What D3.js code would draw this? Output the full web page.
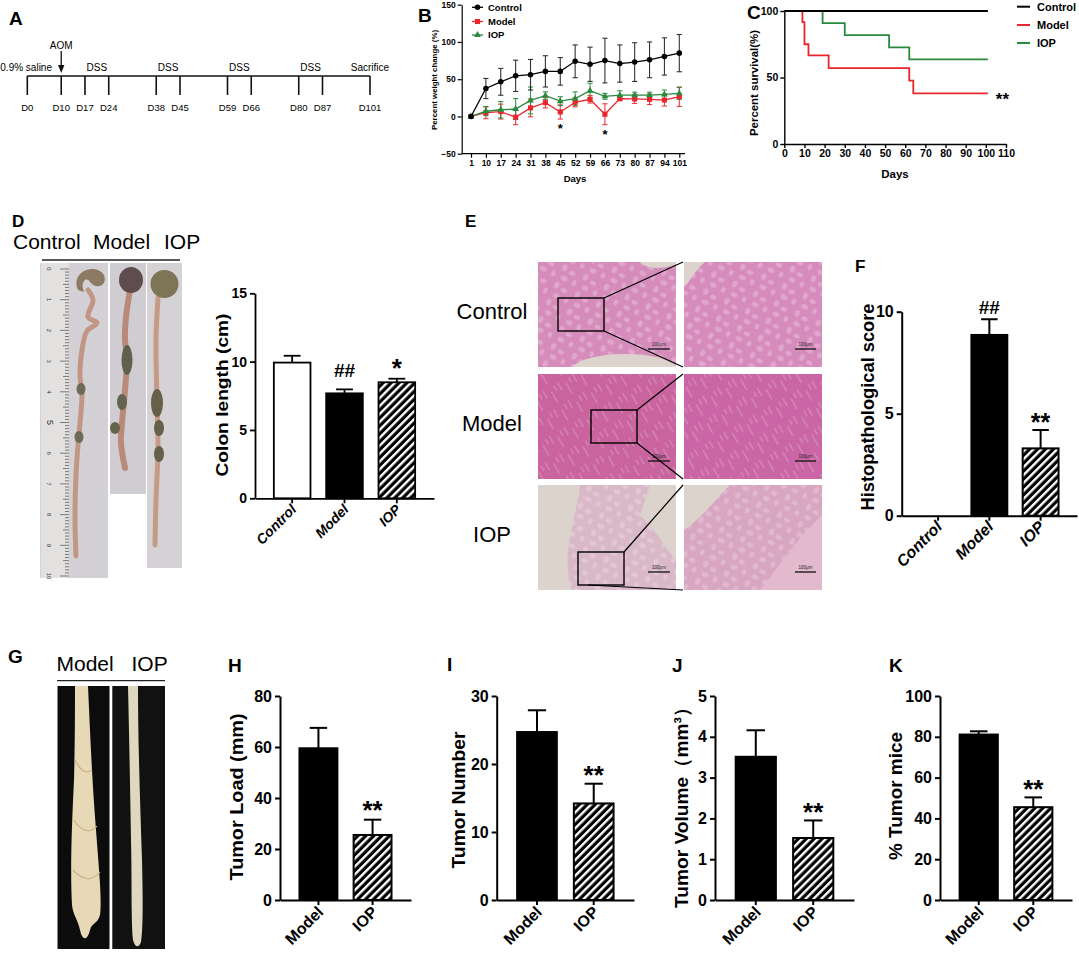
<!DOCTYPE html>
<html>
<head>
<meta charset="utf-8">
<script src="https://cdn.jsdelivr.net/npm/d3@7"></script>
<style>
  body { margin: 0; background: #fff; }
  svg { display: block; font-family: "Liberation Sans", Arial, Helvetica, sans-serif; }
</style>
</head>
<body>
<div id="fig"></div>
<script>
// ---------- data ----------
// A: protocol timeline
const timelineDays = [0, 10, 17, 24, 38, 45, 59, 66, 80, 87, 101];
const dssStart = [17, 38, 59, 80];
const dssEnd = [24, 45, 66, 87];

// B: percent weight change
const weightDays = ["1", "10", "17", "24", "31", "38", "45", "52", "59", "66", "73", "80", "87", "94", "101"];
const weightTicks = [-50, 0, 50, 100, 150];
const ctrlWeight = [0, 37.5, 46.5, 54.5, 56, 60.5, 60.5, 74, 70, 75, 71, 73, 76, 80.5, 85];
const ctrlWeightErr = [0, 13.5, 18, 21, 20.5, 21, 18.5, 22, 23, 30, 25, 26, 24, 25, 25];
const modelWeight = [0, 5, 6.5, -1, 11.5, 18.5, 6, 19, 23, 3, 24, 23.5, 23, 22, 26.5];
const modelWeightErr = [0, 8, 10, 10, 12, 7, 9.5, 6, 5, 14, 3, 6, 7, 8, 13];
const iopWeight = [0, 7, 9, 10, 21.5, 28, 20.5, 24, 34.5, 27, 28.5, 28.5, 28.5, 29.5, 31];
const iopWeightErr = [0, 6, 11, 14, 18, 5, 6, 9, 10, 4, 6, 4, 4, 6, 8];
const weightStarDays = ["45", "66"];

// C: survival
const survTicksX = [0, 10, 20, 30, 40, 50, 60, 70, 80, 90, 100, 110];
const survTicksY = [0, 50, 100];
const survDaysCtrl = [0, 101];
const survCtrl = [100, 100];
const survDaysModel = [0, 9, 10, 12, 22, 62, 64, 101];
const survModel = [100, 91.7, 75, 66.7, 57.1, 47.6, 38.1, 38.1];
const survDaysIop = [0, 19, 30, 52, 62, 101];
const survIop = [100, 90.9, 81.8, 72.7, 63.6, 63.6];

// D: colon length
const groups3 = ["Control", "Model", "IOP"];
const colonLength = [9.93, 7.68, 8.49];
const colonLengthErr = [0.5, 0.29, 0.26];
const colonMarks = ["", "##", "*"];

// F: histopathological score
const histoScore = [0, 8.86, 3.3];
const histoScoreErr = [0, 0.77, 0.9];
const histoMarks = ["", "##", "**"];

// H-K: tumour data
const groups2 = ["Model", "IOP"];
const tumorLoad = [59.5, 25.5];
const tumorLoadErr = [8, 6];
const tumorNumber = [24.7, 14.2];
const tumorNumberErr = [3.2, 2.9];
const tumorVolume = [3.51, 1.52];
const tumorVolumeErr = [0.65, 0.43];
const tumorMice = [81.1, 45.5];
const tumorMiceErr = [1.6, 4.8];
const tumorMarks = ["", "**"];

// ---------- svg ----------
const FONT = '"Liberation Sans", Arial, Helvetica, sans-serif';
const svg = d3.select("#fig").append("svg").attr("width", 1079).attr("height", 954);
const defs = svg.append("defs");

const hatch = defs.append("pattern").attr("id", "hatch")
  .attr("patternUnits", "userSpaceOnUse")
  .attr("width", 5.6).attr("height", 5.6)
  .attr("patternTransform", "rotate(45)");
hatch.append("rect").attr("width", 5.6).attr("height", 5.6).attr("fill", "#000");
hatch.append("rect").attr("width", 2.4).attr("height", 5.6).attr("fill", "#fff");

// loose crypt-like texture for the H&E pictures
const crypt = defs.append("pattern").attr("id", "crypt")
  .attr("patternUnits", "userSpaceOnUse").attr("width", 23).attr("height", 19)
  .attr("patternTransform", "rotate(25)");
[[4, 4, 2.5, 3.5], [13, 6, 3.2, 2.2], [19, 14, 2.2, 3], [8, 14, 3.5, 2.4]].forEach(e => {
  crypt.append("ellipse").attr("cx", e[0]).attr("cy", e[1]).attr("rx", e[2]).attr("ry", e[3])
    .attr("fill", "#f7e6ef");
});
const speck = defs.append("pattern").attr("id", "speck")
  .attr("patternUnits", "userSpaceOnUse").attr("width", 17).attr("height", 21)
  .attr("patternTransform", "rotate(-30)");
[[2, 1, 9], [9, 6, 12], [14, 2, 6]].forEach(s => {
  speck.append("rect").attr("x", s[0]).attr("y", s[1]).attr("width", 1.3).attr("height", s[2])
    .attr("fill", "#f5dcea");
});

function letter(t, x, y, s) {
  svg.append("text").attr("x", x).attr("y", y).attr("font-size", s)
    .attr("font-weight", "bold").text(t);
}

function yLabel(g, text, cx, cy, len, size) {
  g.append("text")
    .attr("transform", `translate(${cx},${cy}) rotate(-90)`)
    .attr("text-anchor", "middle").attr("dy", "0.35em")
    .attr("font-size", size).attr("font-weight", "bold")
    .attr("textLength", len).attr("lengthAdjust", "spacingAndGlyphs")
    .text(text);
}

function styleAxis(a, size, sw) {
  a.attr("font-family", FONT);
  a.select(".domain").attr("stroke", "#000").attr("stroke-width", sw);
  a.selectAll(".tick line").attr("stroke", "#000").attr("stroke-width", sw);
  a.selectAll(".tick text").attr("font-size", size).attr("font-weight", "bold").attr("fill", "#000");
}

// ---------- A ----------
letter("A", 9, 25, 19);
const gA = svg.append("g").attr("font-size", 10);
const xA = d3.scaleLinear().domain([0, 101]).range([27.3, 370]);
gA.append("line").attr("x1", xA(0)).attr("x2", xA(101)).attr("y1", 76).attr("y2", 76)
  .attr("stroke", "#111").attr("stroke-width", 1.6);
gA.selectAll("line.tk").data(timelineDays).join("line").attr("class", "tk")
  .attr("x1", d => xA(d)).attr("x2", d => xA(d)).attr("y1", 76).attr("y2", 95)
  .attr("stroke", "#111").attr("stroke-width", 1.6);
gA.selectAll("text.day").data(timelineDays).join("text").attr("class", "day")
  .attr("x", d => xA(d)).attr("y", 110.5).attr("text-anchor", "middle")
  .attr("font-size", 9.5).text(d => "D" + d);
gA.selectAll("text.dss").data(dssStart).join("text").attr("class", "dss")
  .attr("x", (d, i) => xA((d + dssEnd[i]) / 2)).attr("y", 70.5).attr("text-anchor", "middle")
  .text("DSS");
gA.append("text").attr("x", 52).attr("y", 70.5).attr("text-anchor", "end").text("0.9% saline");
gA.append("text").attr("x", xA(101)).attr("y", 70.5).attr("text-anchor", "middle").text("Sacrifice");
gA.append("text").attr("x", xA(10)).attr("y", 48.5).attr("text-anchor", "middle").text("AOM");
gA.append("line").attr("x1", xA(10)).attr("x2", xA(10)).attr("y1", 51).attr("y2", 67)
  .attr("stroke", "#111").attr("stroke-width", 1.3);
gA.append("path").attr("d", `M${xA(10) - 3.2},65 L${xA(10) + 3.2},65 L${xA(10)},73 Z`).attr("fill", "#111");

// ---------- B ----------
letter("B", 418, 22, 19);
const gB = svg.append("g");
const xB = d3.scalePoint().domain(weightDays).range([471, 679.3]);
const yB = d3.scaleLinear().domain([-50, 150]).range([153.7, 4.7]);
const yAxB = gB.append("g").attr("transform", "translate(461.7,0)")
  .call(d3.axisLeft(yB).tickValues(weightTicks).tickSize(4).tickPadding(2).tickSizeOuter(0));
styleAxis(yAxB, 8.5, 1.2);
const xAxB = gB.append("g").attr("transform", "translate(0,153.7)")
  .call(d3.axisBottom(xB).tickSize(4).tickPadding(2).tickSizeOuter(0));
styleAxis(xAxB, 8.5, 1.2);
xAxB.select(".domain").attr("d", "M461.7,0H685");
yLabel(gB, "Percent weight change (%)", 434, 80, 100, 8);
gB.append("text").attr("x", 575).attr("y", 181.5).attr("text-anchor", "middle")
  .attr("font-size", 9.5).attr("font-weight", "bold").text("Days");

const weightSeries = [
  { name: "Model", v: modelWeight, e: modelWeightErr, color: "#e8262c", sym: d3.symbolSquare, size: 26 },
  { name: "IOP", v: iopWeight, e: iopWeightErr, color: "#2a8a3e", sym: d3.symbolTriangle, size: 20 },
  { name: "Control", v: ctrlWeight, e: ctrlWeightErr, color: "#000", sym: d3.symbolCircle, size: 24 }
];
weightSeries.forEach(s => {
  const pts = weightDays.map((d, i) => ({ d, v: s.v[i], e: s.e[i] }));
  const eg = gB.append("g").attr("stroke", s.color).attr("stroke-width", 1.1)
    .attr("opacity", s.name === "Control" ? 0.8 : 0.9);
  const withErr = pts.filter(p => p.e > 0);
  eg.selectAll("line.v").data(withErr).join("line").attr("class", "v")
    .attr("x1", p => xB(p.d)).attr("x2", p => xB(p.d))
    .attr("y1", p => yB(p.v - p.e)).attr("y2", p => yB(p.v + p.e));
  eg.selectAll("line.t").data(withErr).join("line").attr("class", "t")
    .attr("x1", p => xB(p.d) - 2.6).attr("x2", p => xB(p.d) + 2.6)
    .attr("y1", p => yB(p.v + p.e)).attr("y2", p => yB(p.v + p.e));
  eg.selectAll("line.b").data(withErr).join("line").attr("class", "b")
    .attr("x1", p => xB(p.d) - 2.6).attr("x2", p => xB(p.d) + 2.6)
    .attr("y1", p => yB(p.v - p.e)).attr("y2", p => yB(p.v - p.e));
});
weightSeries.forEach(s => {
  const pts = weightDays.map((d, i) => ({ d, v: s.v[i] }));
  gB.append("path").datum(pts)
    .attr("d", d3.line().x(p => xB(p.d)).y(p => yB(p.v)))
    .attr("fill", "none").attr("stroke", s.color).attr("stroke-width", 1.3);
  gB.selectAll(null).data(pts).join("path")
    .attr("transform", p => `translate(${xB(p.d)},${yB(p.v)})`)
    .attr("d", d3.symbol().type(s.sym).size(s.size)).attr("fill", s.color);
});
gB.selectAll("text.star").data(weightStarDays).join("text").attr("class", "star")
  .attr("x", d => xB(d)).attr("text-anchor", "middle")
  .attr("y", d => { const i = weightDays.indexOf(d); return yB(modelWeight[i] - modelWeightErr[i]) + 14; })
  .attr("font-size", 13).attr("font-weight", "bold").text("*");

const legB = [weightSeries[2], weightSeries[0], weightSeries[1]];
const legBy = [7.3, 21.5, 35];
legB.forEach((s, i) => {
  gB.append("line").attr("x1", 472).attr("x2", 483).attr("y1", legBy[i]).attr("y2", legBy[i])
    .attr("stroke", s.color).attr("stroke-width", 1.3);
  gB.append("path").attr("transform", `translate(477.5,${legBy[i]})`)
    .attr("d", d3.symbol().type(s.sym).size(s.size)).attr("fill", s.color);
  gB.append("text").attr("x", 488).attr("y", legBy[i]).attr("dy", "0.35em")
    .attr("font-size", 9.5).attr("font-weight", "bold").text(s.name);
});

// ---------- C ----------
letter("C", 747, 19, 19);
const gC = svg.append("g");
const xC = d3.scaleLinear().domain([0, 110]).range([784.3, 1006]);
const yC = d3.scaleLinear().domain([0, 100]).range([144, 11]);
const yAxC = gC.append("g").attr("transform", "translate(784.3,0)")
  .call(d3.axisLeft(yC).tickValues(survTicksY).tickSize(4).tickPadding(2).tickSizeOuter(0));
styleAxis(yAxC, 10.5, 1.4);
const xAxC = gC.append("g").attr("transform", "translate(0,144)")
  .call(d3.axisBottom(xC).tickValues(survTicksX).tickSize(4).tickPadding(2).tickSizeOuter(0));
styleAxis(xAxC, 10.5, 1.4);
yLabel(gC, "Percent survival(%)", 754, 83, 106, 11);
gC.append("text").attr("x", 895).attr("y", 177.5).attr("text-anchor", "middle")
  .attr("font-size", 11.5).attr("font-weight", "bold").text("Days");

const survSeries = [
  { name: "Control", days: survDaysCtrl, v: survCtrl, color: "#000" },
  { name: "Model", days: survDaysModel, v: survModel, color: "#e8262c" },
  { name: "IOP", days: survDaysIop, v: survIop, color: "#2a8a3e" }
];
const stepLine = d3.line().curve(d3.curveStepAfter).x(p => xC(p[0])).y(p => yC(p[1]));
[survSeries[2], survSeries[1], survSeries[0]].forEach(s => {
  gC.append("path").datum(s.days.map((d, i) => [d, s.v[i]]))
    .attr("d", stepLine).attr("fill", "none").attr("stroke", s.color).attr("stroke-width", 1.8);
});
gC.append("text").attr("x", xC(101) + 8).attr("y", yC(survModel[survModel.length - 1]) + 12)
  .attr("font-size", 17).attr("font-weight", "bold").text("**");
const legCy = [6.7, 25, 43];
survSeries.forEach((s, i) => {
  gC.append("line").attr("x1", 1017).attr("x2", 1030).attr("y1", legCy[i]).attr("y2", legCy[i])
    .attr("stroke", s.color).attr("stroke-width", 2);
  gC.append("text").attr("x", 1037).attr("y", legCy[i]).attr("dy", "0.35em")
    .attr("font-size", 11).attr("font-weight", "bold").text(s.name);
});

// ---------- bar charts ----------
function barPanel(o) {
  const g = svg.append("g");
  const x = d3.scaleBand().domain(o.groups).range(o.xr).paddingInner(0.3).paddingOuter(0.36);
  const y = d3.scaleLinear().domain([0, o.max]).range(o.yr);
  const bw = x.bandwidth();
  const rows = o.groups.map((grp, i) => ({ grp, v: o.values[i], e: o.errors[i], fill: o.fills[i], mark: o.marks[i] }));
  const shown = rows.filter(d => d.v > 0);
  g.selectAll("line.err").data(shown).join("line").attr("class", "err")
    .attr("x1", d => x(d.grp) + bw / 2).attr("x2", d => x(d.grp) + bw / 2)
    .attr("y1", d => y(d.v)).attr("y2", d => y(d.v + d.e))
    .attr("stroke", "#000").attr("stroke-width", o.sw);
  g.selectAll("line.cap").data(shown).join("line").attr("class", "cap")
    .attr("x1", d => x(d.grp) + bw / 2 - bw * 0.23).attr("x2", d => x(d.grp) + bw / 2 + bw * 0.23)
    .attr("y1", d => y(d.v + d.e)).attr("y2", d => y(d.v + d.e))
    .attr("stroke", "#000").attr("stroke-width", o.sw);
  g.selectAll("rect.bar").data(shown).join("rect").attr("class", "bar")
    .attr("x", d => x(d.grp)).attr("y", d => y(d.v))
    .attr("width", bw).attr("height", d => y(0) - y(d.v))
    .attr("fill", d => d.fill).attr("stroke", "#000").attr("stroke-width", o.sw);
  g.selectAll("text.mark").data(shown.filter(d => d.mark)).join("text").attr("class", "mark")
    .attr("x", d => x(d.grp) + bw / 2).attr("text-anchor", "middle")
    .attr("y", d => y(d.v + d.e) - (d.mark[0] === "#" ? o.hashGap : o.starGap))
    .attr("font-size", d => d.mark[0] === "#" ? o.hashSize : o.starSize)
    .attr("font-weight", "bold").text(d => d.mark);

  const ya = g.append("g").attr("transform", `translate(${o.xr[0]},0)`)
    .call(d3.axisLeft(y).tickValues(o.ticks).tickFormat(d3.format("d"))
      .tickSize(5).tickPadding(3).tickSizeOuter(0));
  styleAxis(ya, o.tickSize, o.sw);
  const xa = g.append("g").attr("transform", `translate(0,${o.yr[0]})`)
    .call(d3.axisBottom(x).tickSize(5).tickSizeOuter(0));
  styleAxis(xa, o.tickSize, o.sw);
  xa.selectAll(".tick text").attr("y", 0).attr("dy", 0).attr("text-anchor", "end")
    .attr("font-style", o.italic ? "italic" : "normal")
    .attr("transform", `translate(${o.lab[0]},${o.lab[1]}) rotate(-45)`);
  yLabel(g, o.ylabel, o.yl[0], o.yl[1], o.yl[2], o.ylSize);
  return g;
}

const fills3 = ["#fff", "#000", "url(#hatch)"];
const fills2 = ["#000", "url(#hatch)"];

// ---------- D ----------
letter("D", 12, 227, 17);
const gD = svg.append("g");
[["Control", 13], ["Model", 93], ["IOP", 164]].forEach(t => {
  gD.append("text").attr("x", t[1]).attr("y", 249).attr("font-size", 21).text(t[0]);
});
gD.append("line").attr("x1", 42).attr("x2", 180).attr("y1", 260).attr("y2", 260)
  .attr("stroke", "#222").attr("stroke-width", 1.3);
// photo strips (illustration)
gD.append("rect").attr("x", 40).attr("y", 263).attr("width", 68).attr("height", 315).attr("fill", "#d3d1d5");
gD.append("rect").attr("x", 41).attr("y", 263).attr("width", 28).attr("height", 315).attr("fill", "#e3e1e0");
gD.append("rect").attr("x", 110).attr("y", 263).attr("width", 36).attr("height", 231).attr("fill", "#cfcdd2");
gD.append("rect").attr("x", 147).attr("y", 263).attr("width", 35).attr("height", 305).attr("fill", "#d4d2d4");
const rulerY = d3.scaleLinear().domain([0, 10]).range([269, 576]);
gD.selectAll("line.mm").data(d3.range(0, 101)).join("line").attr("class", "mm")
  .attr("x1", 69).attr("x2", d => d % 10 === 0 ? 60 : (d % 5 === 0 ? 63 : 65))
  .attr("y1", d => rulerY(d / 10)).attr("y2", d => rulerY(d / 10))
  .attr("stroke", "#333").attr("stroke-width", 0.6);
gD.selectAll("text.cm").data(d3.range(0, 11)).join("text").attr("class", "cm")
  .attr("transform", d => `translate(47,${rulerY(d)}) rotate(90)`)
  .attr("text-anchor", "middle").attr("font-size", d => d === 5 ? 9 : 6).attr("fill", "#333").text(d => d);
const tube = d3.line().curve(d3.curveCatmullRom);
gD.append("path").attr("d", tube([[88, 290], [93, 300], [88, 317], [97, 323], [87, 331], [82, 350], [80, 377], [82, 392], [80, 423], [78, 445], [76, 475], [75, 520], [76, 556]]))
  .attr("fill", "none").attr("stroke", "#c29684").attr("stroke-width", 5).attr("stroke-linecap", "round");
gD.append("path").attr("d", "M78,290 C70,272 95,262 104,275 C108,286 96,290 90,282 C86,276 80,282 84,292 Z").attr("fill", "#8c7b62");
gD.append("ellipse").attr("cx", 81).attr("cy", 389).attr("rx", 4.5).attr("ry", 6).attr("fill", "#6e6a55");
gD.append("ellipse").attr("cx", 79).attr("cy", 437).attr("rx", 4.5).attr("ry", 6).attr("fill", "#6e6a55");
gD.append("path").attr("d", tube([[130, 290], [126, 317], [125, 340], [127, 357], [125, 390], [122, 423], [121, 443], [125, 468]]))
  .attr("fill", "none").attr("stroke", "#b98a7a").attr("stroke-width", 6).attr("stroke-linecap", "round");
gD.append("ellipse").attr("cx", 131).attr("cy", 280).attr("rx", 12).attr("ry", 13).attr("fill", "#5e4c4e");
gD.append("ellipse").attr("cx", 127).attr("cy", 360).attr("rx", 5.5).attr("ry", 15).attr("fill", "#5f604d");
gD.append("ellipse").attr("cx", 122).attr("cy", 402).attr("rx", 5).attr("ry", 8).attr("fill", "#66634f");
gD.append("ellipse").attr("cx", 115).attr("cy", 428).attr("rx", 5).attr("ry", 6).attr("fill", "#66634f");
gD.append("path").attr("d", tube([[158, 298], [156, 340], [157, 400], [158, 450], [156, 500], [155, 545]]))
  .attr("fill", "none").attr("stroke", "#c59b87").attr("stroke-width", 5).attr("stroke-linecap", "round");
gD.append("circle").attr("cx", 164.5).attr("cy", 284).attr("r", 14).attr("fill", "#7d7556");
gD.append("ellipse").attr("cx", 157).attr("cy", 403).attr("rx", 6).attr("ry", 14).attr("fill", "#666048");
gD.append("ellipse").attr("cx", 159).attr("cy", 428).attr("rx", 5).attr("ry", 8).attr("fill", "#666048");
gD.append("ellipse").attr("cx", 159).attr("cy", 454).attr("rx", 5).attr("ry", 8).attr("fill", "#666048");

barPanel({
  groups: groups3, values: colonLength, errors: colonLengthErr, fills: fills3, marks: colonMarks,
  xr: [255, 434], yr: [498.3, 293.3], max: 15, ticks: [0, 5, 10, 15],
  sw: 1.8, tickSize: 14, italic: true, lab: [5, 12],
  hashGap: 12, hashSize: 19, starGap: 2, starSize: 26,
  ylabel: "Colon length (cm)", yl: [222, 395, 163], ylSize: 17
});

// ---------- E ----------
letter("E", 465, 227, 17);
const gE = svg.append("g");
const rowsE = [262, 374, 485];
const rowNames = ["Control", "Model", "IOP"];
const leftFill = ["#d58cbb", "#c9649f", "#d9b9c8"];
const rightFill = ["#d68bbd", "#ca66a5", "#d8a6c1"];
const boxes = [[558, 298], [591, 410], [578, 552]];
rowsE.forEach((y0, i) => {
  gE.append("text").attr("x", 492).attr("y", y0 + 57).attr("text-anchor", "middle")
    .attr("font-size", 22).text(rowNames[i]);
  const cl = defs.append("clipPath").attr("id", "cl" + i);
  cl.append("rect").attr("x", 538).attr("y", y0).attr("width", 138).attr("height", 105);
  const cr = defs.append("clipPath").attr("id", "cr" + i);
  cr.append("rect").attr("x", 684).attr("y", y0).attr("width", 138).attr("height", 105);
  const L = gE.append("g").attr("clip-path", `url(#cl${i})`);
  const R = gE.append("g").attr("clip-path", `url(#cr${i})`);
  L.append("rect").attr("x", 538).attr("y", y0).attr("width", 138).attr("height", 105).attr("fill", leftFill[i]);
  R.append("rect").attr("x", 684).attr("y", y0).attr("width", 138).attr("height", 105).attr("fill", rightFill[i]);
  const tex = i === 1 ? "url(#speck)" : "url(#crypt)";
  L.append("rect").attr("x", 538).attr("y", y0).attr("width", 138).attr("height", 105).attr("fill", tex).attr("opacity", 0.3);
  R.append("rect").attr("x", 684).attr("y", y0).attr("width", 138).attr("height", 105).attr("fill", tex).attr("opacity", 0.3);
  if (i === 0) {
    L.append("ellipse").attr("cx", 625).attr("cy", 372).attr("rx", 55).attr("ry", 18).attr("fill", "#ddd3cd");
    L.append("path").attr("d", `M640,${y0} C650,${y0 + 10} 670,${y0 + 5} 676,${y0 + 2} L676,${y0} Z`).attr("fill", "#ddd3cd");
    R.append("path").attr("d", `M684,${y0} L705,${y0} C695,${y0 + 8} 690,${y0 + 20} 684,${y0 + 25} Z`).attr("fill", "#ddd3cd");
  }
  if (i === 2) {
    L.append("path").attr("d", `M538,${y0} L580,${y0} C575,${y0 + 40} 560,${y0 + 70} 572,${y0 + 105} L538,${y0 + 105} Z`).attr("fill", "#dcd3cc");
    L.append("path").attr("d", `M640,${y0 + 30} C660,${y0 + 50} 670,${y0 + 70} 676,${y0 + 75} L676,${y0} L650,${y0} Z`).attr("fill", "#dcd3cc");
    R.append("path").attr("d", `M684,${y0} L730,${y0} C715,${y0 + 15} 700,${y0 + 35} 684,${y0 + 45} Z`).attr("fill", "#dcd3cc");
    R.append("path").attr("d", `M760,${y0 + 105} C780,${y0 + 80} 800,${y0 + 50} 822,${y0 + 30} L822,${y0 + 105} Z`).attr("fill", "#e2b9cd");
  }
  // scale bars
  [[648, 670], [795, 816]].forEach(sb => {
    gE.append("line").attr("x1", sb[0]).attr("x2", sb[1]).attr("y1", y0 + 87).attr("y2", y0 + 87)
      .attr("stroke", "#111").attr("stroke-width", 1.3);
    gE.append("text").attr("x", (sb[0] + sb[1]) / 2).attr("y", y0 + 84).attr("text-anchor", "middle")
      .attr("font-size", 4.5).attr("fill", "#222").text("100μm");
  });
  // inset box and zoom lines
  const b = boxes[i];
  gE.append("rect").attr("x", b[0]).attr("y", b[1]).attr("width", 46).attr("height", 33)
    .attr("fill", "none").attr("stroke", "#000").attr("stroke-width", 1.4);
  gE.append("line").attr("x1", b[0] + 46).attr("y1", b[1]).attr("x2", 683).attr("y2", y0)
    .attr("stroke", "#000").attr("stroke-width", 1.2);
  gE.append("line").attr("x1", b[0] + (i === 2 ? 10 : 46)).attr("y1", b[1] + 33).attr("x2", 683).attr("y2", y0 + 105)
    .attr("stroke", "#000").attr("stroke-width", 1.2);
});

// ---------- F ----------
letter("F", 855, 272, 17);
barPanel({
  groups: groups3, values: histoScore, errors: histoScoreErr, fills: fills3, marks: histoMarks,
  xr: [901.7, 1077], yr: [515.7, 311.7], max: 10, ticks: [0, 5, 10],
  sw: 2, tickSize: 16, italic: true, lab: [5, 12],
  hashGap: 5, hashSize: 19, starGap: -1, starSize: 25,
  ylabel: "Histopathological score", yl: [868, 407, 207], ylSize: 18
});

// ---------- G ----------
letter("G", 8, 663, 19);
const gG = svg.append("g");
gG.append("text").attr("x", 56.5).attr("y", 670.5).attr("font-size", 21).text("Model");
gG.append("text").attr("x", 131.5).attr("y", 670.5).attr("font-size", 21).text("IOP");
gG.append("line").attr("x1", 57).attr("x2", 165).attr("y1", 680.7).attr("y2", 680.7)
  .attr("stroke", "#222").attr("stroke-width", 1.3);
gG.append("rect").attr("x", 57.5).attr("y", 686).attr("width", 52).attr("height", 263).attr("fill", "#0c0c0c");
gG.append("rect").attr("x", 112.3).attr("y", 686).attr("width", 52.7).attr("height", 263).attr("fill", "#111");
gG.append("path").attr("d", "M75,686 L88,686 C90,730 92,780 96,830 C99,870 102,900 100,915 C97,925 92,922 90,930 C87,942 82,940 80,930 C78,920 73,915 72,905 C70,870 72,820 74,780 C75,740 75,710 75,686 Z")
  .attr("fill", "#e7d8b6");
gG.append("path").attr("d", "M75,760 C80,770 86,775 92,770 M74,820 C80,830 90,835 97,826 M73,870 C82,880 92,882 100,872")
  .attr("fill", "none").attr("stroke", "#c9b48c").attr("stroke-width", 1.2);
gG.append("path").attr("d", "M128,686 L138,686 C138,740 140,800 142,860 C143,900 143,930 141,942 C139,948 135,948 133,940 C131,920 132,880 131,840 C130,780 129,730 128,686 Z")
  .attr("fill", "#dfd8bf");

// ---------- H-K ----------
letter("H", 228, 672, 19);
barPanel({
  groups: groups2, values: tumorLoad, errors: tumorLoadErr, fills: fills2, marks: tumorMarks,
  xr: [280, 411], yr: [900, 696], max: 80, ticks: [0, 20, 40, 60, 80],
  sw: 2, tickSize: 16, italic: false, lab: [6, 13],
  hashGap: 5, hashSize: 18, starGap: 1, starSize: 26,
  ylabel: "Tumor Load (mm)", yl: [236, 797, 167], ylSize: 19
});
letter("I", 447, 671, 19);
barPanel({
  groups: groups2, values: tumorNumber, errors: tumorNumberErr, fills: fills2, marks: tumorMarks,
  xr: [496.7, 634], yr: [900, 696], max: 30, ticks: [0, 10, 20, 30],
  sw: 2, tickSize: 16, italic: false, lab: [6, 13],
  hashGap: 5, hashSize: 18, starGap: 0, starSize: 26,
  ylabel: "Tumor Number", yl: [458, 800, 137], ylSize: 19
});
letter("J", 672, 672, 19);
barPanel({
  groups: groups2, values: tumorVolume, errors: tumorVolumeErr, fills: fills2, marks: tumorMarks,
  xr: [715, 854], yr: [900, 696], max: 5, ticks: [0, 1, 2, 3, 4, 5],
  sw: 2, tickSize: 16, italic: false, lab: [6, 13],
  hashGap: 5, hashSize: 18, starGap: -1, starSize: 26,
  ylabel: "Tumor Volume（mm³）", yl: [681, 803, 210], ylSize: 19
});
letter("K", 889, 672, 19);
barPanel({
  groups: groups2, values: tumorMice, errors: tumorMiceErr, fills: fills2, marks: tumorMarks,
  xr: [940, 1072], yr: [900, 696], max: 100, ticks: [0, 20, 40, 60, 80, 100],
  sw: 2, tickSize: 16, italic: false, lab: [6, 13],
  hashGap: 5, hashSize: 18, starGap: -1, starSize: 26,
  ylabel: "% Tumor mice", yl: [895, 796, 128], ylSize: 19
});
</script>
</body>
</html>
